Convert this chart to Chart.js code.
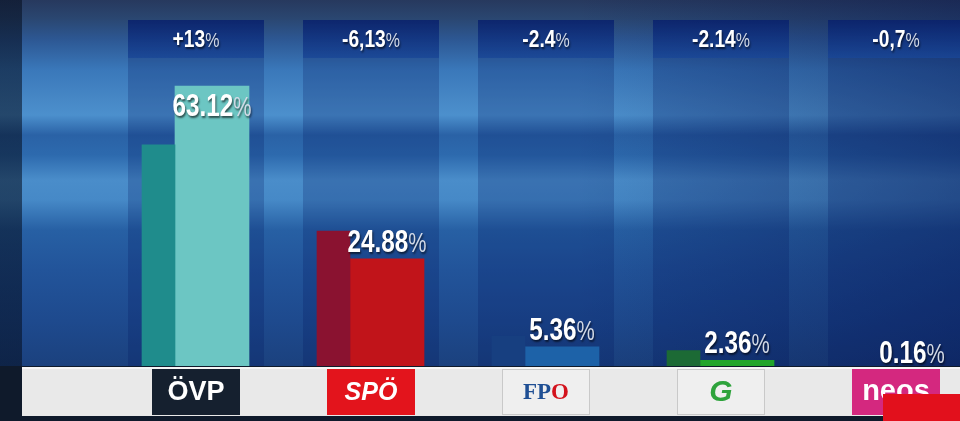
<!DOCTYPE html>
<html><head><meta charset="utf-8">
<script src="https://cdn.jsdelivr.net/npm/chart.js@4"></script>
<style>
html,body{margin:0;padding:0;width:960px;height:421px;overflow:hidden;}
body{
 background:
  linear-gradient(90deg, rgba(4,12,28,0.55) 0px, rgba(4,12,28,0.55) 22px, rgba(0,0,0,0) 22px),
  linear-gradient(90deg, rgba(0,0,0,0) 60%, rgba(6,16,70,0.38) 100%),
  linear-gradient(180deg,#27395e 0px,#2a4670 18px,#2d5894 40px,#3a78ba 70px,#4788c6 100px,#4c90cd 115px,#2a62a6 135px,#2d6aae 155px,#4a8dca 180px,#4689c7 200px,#2760a4 230px,#22549a 270px,#1e4a8e 320px,#1b417e 366px,#101a2a 421px);
}
#wrap{position:relative;width:960px;height:421px;}
canvas{display:block;}
</style></head><body>
<div id="wrap"><canvas id="c" width="960" height="421"></canvas></div>
<script>
// ---- data ----
const categories    = ['ÖVP', 'SPÖ', 'FPO', 'G', 'neos'];
const previousShare = [50.12, 31.01, 7.76, 4.50, 0.86];
const currentShare  = [63.12, 24.88, 5.36, 2.36, 0.16];
const changeLabels  = ['+13', '-6,13', '-2.4', '-2.14', '-0,7'];

// ---- styles ----
const prevColors = ['#1f8c8c', '#8a1230', '#173f80', '#1c6a35', '#8c2a6c'];
const currColors = ['#6cc6c3', '#c1141a', '#1d62a8', '#22a52b', '#c8307c'];
const FONT_S = "'Liberation Sans',Arial,'DejaVu Sans',sans-serif";
const FONT_SERIF = "'Liberation Serif','DejaVu Serif',serif";
const OFF = 21; // column centre offset from category pixel

function drawPct(ctx, num, cx, base, numSize, pctSize, sx){
  ctx.font = 'bold ' + numSize + 'px ' + FONT_S;
  const w1 = ctx.measureText(num).width * sx;
  ctx.font = pctSize + 'px ' + FONT_S;
  const w2 = ctx.measureText('%').width * sx;
  const x0 = cx - (w1 + w2) / 2;
  ctx.save();
  ctx.textAlign = 'left';
  ctx.textBaseline = 'alphabetic';
  ctx.shadowColor = 'rgba(0,0,0,0.6)';
  ctx.shadowOffsetX = 1; ctx.shadowOffsetY = 2; ctx.shadowBlur = 2;
  ctx.translate(x0, base);
  ctx.scale(sx, 1);
  ctx.fillStyle = '#ffffff';
  ctx.font = 'bold ' + numSize + 'px ' + FONT_S;
  ctx.fillText(num, 0, 0);
  ctx.fillStyle = '#d3dae6';
  ctx.font = pctSize + 'px ' + FONT_S;
  ctx.fillText('%', w1 / sx, 0);
  ctx.restore();
}

const deco = {
  id: 'deco',
  beforeDatasetsDraw(chart){
    const ctx = chart.ctx, x = chart.scales.x;
    ctx.save();
    categories.forEach((c, i) => {
      const cx = x.getPixelForValue(i) + OFF;
      ctx.fillStyle = 'rgba(0,20,90,0.22)';
      ctx.fillRect(cx - 68, 58, 136, 310);
      const g = ctx.createLinearGradient(0, 20, 0, 58);
      g.addColorStop(0, 'rgba(10,34,108,0.9)');
      g.addColorStop(1, 'rgba(24,68,148,0.85)');
      ctx.fillStyle = g;
      ctx.fillRect(cx - 68, 20, 136, 38);
      drawPct(ctx, changeLabels[i], cx, 47, 24, 20, 0.8);
    });
    ctx.restore();
  },
  afterDatasetsDraw(chart){
    const ctx = chart.ctx, x = chart.scales.x;
    ctx.save();
    // strip below bars
    ctx.fillStyle = '#0f1a2b';
    ctx.fillRect(0, 366, 960, 55);
    ctx.fillStyle = '#e9e9e9';
    ctx.fillRect(22, 367, 938, 49);
    ctx.fillStyle = '#f6f6f6';
    ctx.fillRect(22, 367, 938, 2);
    categories.forEach((c, i) => {
      const cx = x.getPixelForValue(i) + OFF;
      const bx = cx - 44, by = 369, bw = 88, bh = 46;
      ctx.textAlign = 'center';
      ctx.textBaseline = 'middle';
      if (i === 0){
        ctx.fillStyle = '#15202f'; ctx.fillRect(bx, by, bw, bh);
        ctx.fillStyle = '#ffffff'; ctx.font = 'bold 27px ' + FONT_S;
        ctx.fillText(c, cx, by + bh/2 + 1);
      } else if (i === 1){
        ctx.fillStyle = '#e3141c'; ctx.fillRect(bx, by, bw, bh);
        ctx.fillStyle = '#ffffff'; ctx.font = 'italic bold 25px ' + FONT_S;
        ctx.fillText(c, cx, by + bh/2 + 1);
      } else if (i === 2){
        ctx.fillStyle = '#efefef'; ctx.fillRect(bx, by, bw, bh);
        ctx.strokeStyle = '#c9c9c9'; ctx.lineWidth = 1; ctx.strokeRect(bx + 0.5, by + 0.5, bw - 1, bh - 1);
        ctx.font = 'bold 23px ' + FONT_SERIF;
        const wFP = ctx.measureText(c.slice(0, 2)).width, wO = ctx.measureText(c.slice(2)).width;
        ctx.textAlign = 'left';
        ctx.fillStyle = '#1f4f94'; ctx.fillText(c.slice(0, 2), cx - (wFP + wO)/2, by + bh/2 + 1);
        ctx.fillStyle = '#d3121c'; ctx.fillText(c.slice(2), cx - (wFP + wO)/2 + wFP, by + bh/2 + 1);
      } else if (i === 3){
        ctx.fillStyle = '#efefef'; ctx.fillRect(bx, by, bw, bh);
        ctx.strokeStyle = '#c9c9c9'; ctx.lineWidth = 1; ctx.strokeRect(bx + 0.5, by + 0.5, bw - 1, bh - 1);
        ctx.fillStyle = '#2ea33c'; ctx.font = 'italic bold 30px ' + FONT_S;
        ctx.fillText(c, cx, by + bh/2 + 1);
      } else {
        ctx.fillStyle = '#d4287f'; ctx.fillRect(bx, by, bw, bh);
        ctx.fillStyle = '#ffffff'; ctx.font = 'bold 29px ' + FONT_S;
        ctx.fillText(c, cx, by + bh/2);
      }
    });
    // red corner block
    ctx.fillStyle = '#e2101c';
    ctx.fillRect(883, 394, 77, 27);
    // value labels
    const meta = chart.getDatasetMeta(1);
    meta.data.forEach((bar, i) => {
      const base = Math.max(bar.y - 7, 116);
      drawPct(ctx, currentShare[i].toFixed(2), bar.x, base, 32, 27, 0.76);
    });
    ctx.restore();
  }
};

new Chart(document.getElementById('c'), {
  type: 'bar',
  data: {
    labels: categories,
    datasets: [
      { label: 'previous', data: previousShare, backgroundColor: prevColors, barThickness: 33, clip: false },
      { label: 'current',  data: currentShare,  backgroundColor: currColors, barThickness: 74, clip: false }
    ]
  },
  options: {
    responsive: false,
    animation: false,
    layout: { padding: { left: 175, right: 85, top: 10, bottom: 50 } },
    plugins: { legend: { display: false }, tooltip: { enabled: false } },
    scales: {
      x: { display: false, offset: false, grid: { display: false } },
      y: { display: false, min: 0, max: 80, grid: { display: false } }
    }
  },
  plugins: [deco]
});
</script>
</body></html>
